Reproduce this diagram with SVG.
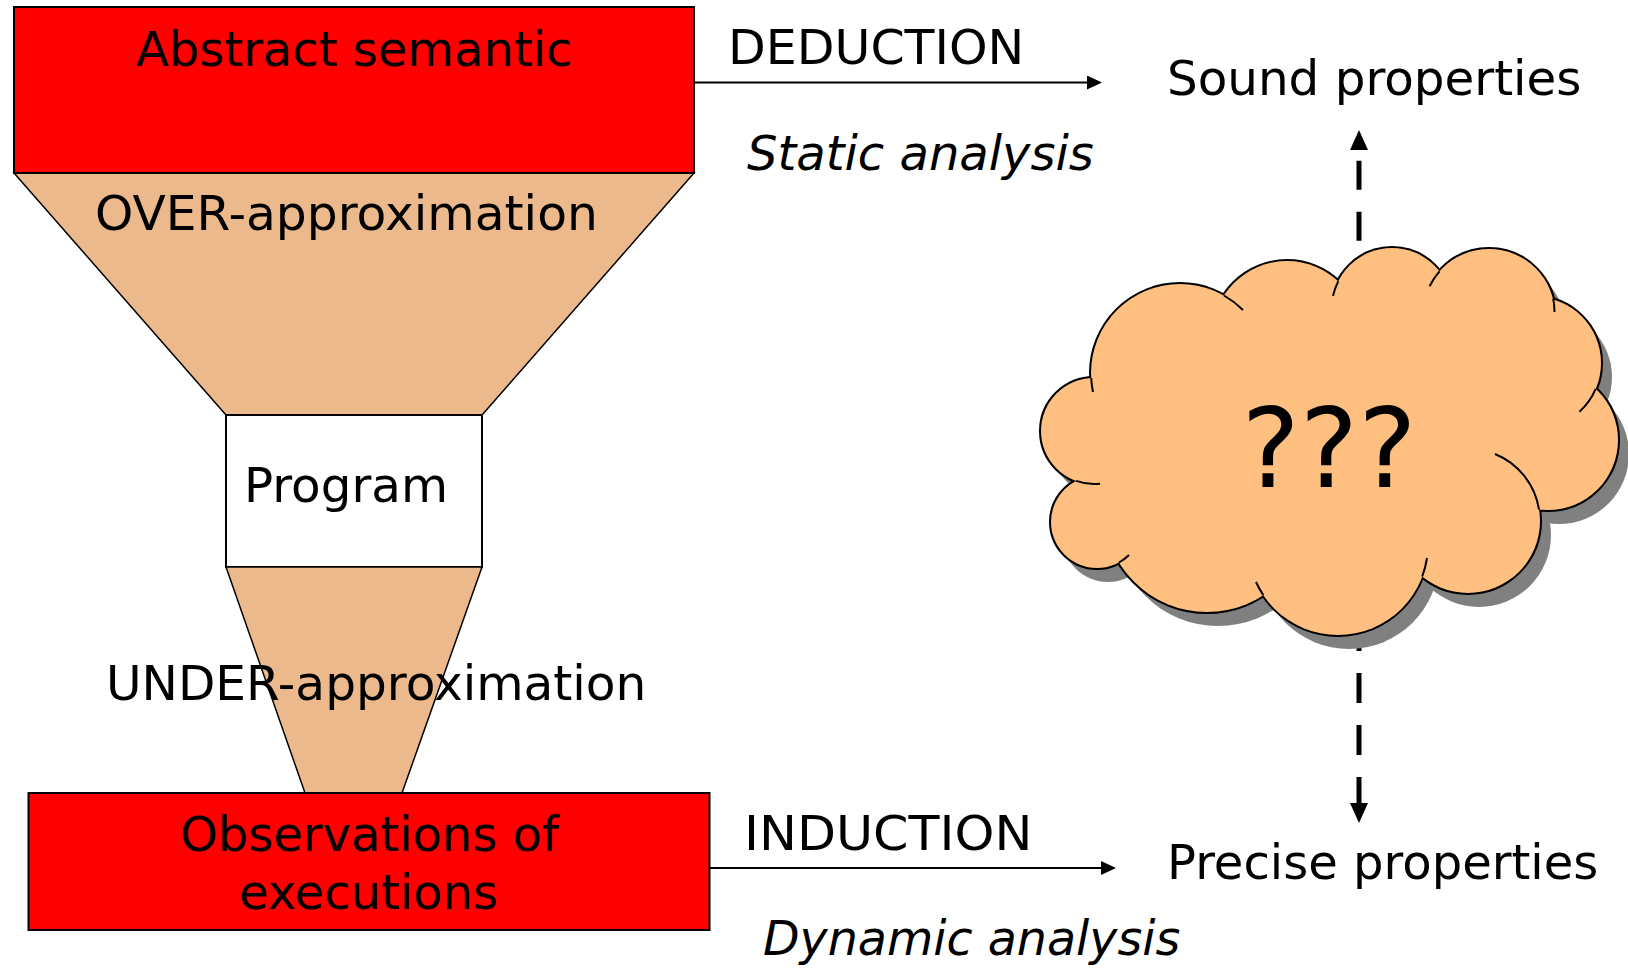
<svg xmlns="http://www.w3.org/2000/svg" width="1628" height="968" viewBox="0 0 1628 968">
  <style>
    text { font-family: "DejaVu Sans", Verdana, "Liberation Sans", sans-serif; font-size: 48px; fill: #000; }
    .it { font-style: italic; }
    .big { font-size: 110px; }
    .red { fill: #FF0000; stroke: #000; stroke-width: 2; }
    .tan { fill: #ECB98C; stroke: #000; stroke-width: 1.5; }
    .white { fill: #FFFFFF; stroke: #000; stroke-width: 2; }
    .solid { stroke: #000; stroke-width: 2; fill: none; }
    .dash { stroke: #000; stroke-width: 5; fill: none; }
    .bump-shadow { fill: #808080; stroke: none; }
    .bump-line { fill: #FFBF80; stroke: #000; stroke-width: 4; }
    .bump-fill { fill: #FFBF80; stroke: none; }
    .stub { fill: none; stroke: #000; stroke-width: 2; }
  </style>
  <defs>
    <marker id="head" viewBox="0 0 15 14" refX="0" refY="7" markerWidth="15" markerHeight="14" markerUnits="userSpaceOnUse" orient="auto">
      <path d="M0,0 L15,7 L0,14 z" fill="#000"/>
    </marker>
    <marker id="head-lg" viewBox="0 0 20 18" refX="0" refY="9" markerWidth="20" markerHeight="18" markerUnits="userSpaceOnUse" orient="auto">
      <path d="M0,0 L20,9 L0,18 z" fill="#000"/>
    </marker>
    <!-- circles making up the cloud outline -->
    <g id="bumps">
      <circle cx="1180" cy="373" r="89"/>
      <circle cx="1287" cy="336" r="75"/>
      <circle cx="1392" cy="308" r="60"/>
      <circle cx="1489" cy="315" r="66"/>
      <circle cx="1535" cy="363" r="66"/>
      <circle cx="1548" cy="440" r="70"/>
      <circle cx="1468" cy="521" r="72"/>
      <circle cx="1338" cy="545" r="90"/>
      <circle cx="1207" cy="509" r="103"/>
      <circle cx="1097" cy="522" r="46"/>
      <circle cx="1094" cy="431" r="53"/>
    </g>
  </defs>

  <rect width="1628" height="968" fill="#FFFFFF"/>

  <!-- funnel: over-approximation part -->
  <g id="over-approximation">
    <polygon class="tan" points="14,173 694,173 482,415 226,415"/>
    <text x="95" y="230" textLength="502.8" lengthAdjust="spacingAndGlyphs">OVER-approximation</text>
  </g>

  <g id="program">
    <rect class="white" x="226" y="415" width="256" height="152"/>
    <text x="244" y="502" textLength="204" lengthAdjust="spacingAndGlyphs">Program</text>
  </g>

  <!-- funnel: under-approximation part -->
  <g id="under-approximation">
    <polygon class="tan" points="226,567 482,567 402,793 305,793"/>
    <text x="106" y="700" textLength="540.4" lengthAdjust="spacingAndGlyphs">UNDER-approximation</text>
  </g>

  <g id="abstract-semantic">
    <rect class="red" x="14" y="7" width="680" height="166"/>
    <text x="136" y="66">Abstract semantic</text>
  </g>

  <g id="observations">
    <rect class="red" x="28.5" y="793" width="681" height="137"/>
    <text x="180" y="851">Observations of</text>
    <text x="239" y="909">executions</text>
  </g>

  <g id="connectors">
    <line class="solid" x1="694" y1="82.5" x2="1087" y2="82.5" marker-end="url(#head)"/>
    <line class="solid" x1="709.5" y1="868" x2="1101" y2="868" marker-end="url(#head)"/>
    <path class="dash" d="M1359,240.7 L1359,150" stroke-dasharray="29 22" marker-end="url(#head-lg)"/>
    <path class="dash" d="M1359,621 L1359,803" stroke-dasharray="30 22" marker-end="url(#head-lg)"/>
  </g>

  <g id="deduction-label">
    <text x="728" y="64" textLength="296.3" lengthAdjust="spacingAndGlyphs">DEDUCTION</text>
    <text class="it" x="747" y="170">Static analysis</text>
  </g>

  <g id="induction-label">
    <text x="744" y="850" textLength="288.4" lengthAdjust="spacingAndGlyphs">INDUCTION</text>
    <text class="it" x="763" y="955" textLength="417.2" lengthAdjust="spacingAndGlyphs">Dynamic analysis</text>
  </g>

  <g id="sound-properties">
    <text x="1167" y="95" textLength="414.5" lengthAdjust="spacingAndGlyphs">Sound properties</text>
  </g>

  <g id="precise-properties">
    <text x="1167" y="879" textLength="431.3" lengthAdjust="spacingAndGlyphs">Precise properties</text>
  </g>

  <!-- cloud: overlapping circles, outlined on the outside only -->
  <g id="unknown">
    <g class="bump-shadow" transform="translate(11,14)">
      <use href="#bumps"/>
      <ellipse cx="1330" cy="440" rx="220" ry="130"/>
    </g>
    <g class="bump-line"><use href="#bumps"/></g>
    <g class="bump-fill">
      <use href="#bumps"/>
      <ellipse cx="1330" cy="440" rx="220" ry="130"/>
    </g>
    <g class="stub">
      <path d="M1091.2,378.1 A89,89 0 0 0 1093,392"/>
      <path d="M1224,295.5 A89,89 0 0 1 1243,310"/>
      <path d="M1338.3,281.3 A60,60 0 0 0 1333,296"/>
      <path d="M1439.5,271.3 A66,66 0 0 0 1429.6,286.3"/>
      <path d="M1553.2,298.6 A66,66 0 0 1 1554.5,312"/>
      <path d="M1595.7,388.9 A66,66 0 0 1 1579.5,411.7"/>
      <path d="M1539,509.5 A72,72 0 0 0 1495,454"/>
      <path d="M1422.2,576.5 A90,90 0 0 0 1427,558"/>
      <path d="M1263.3,595.1 A90,90 0 0 1 1256,582"/>
      <path d="M1119,562.5 A46,46 0 0 0 1129,555"/>
      <path d="M1076.1,480.9 A53,53 0 0 0 1100,483.7"/>
    </g>
    <text class="big" x="1329" y="487" text-anchor="middle">???</text>
  </g>
</svg>
